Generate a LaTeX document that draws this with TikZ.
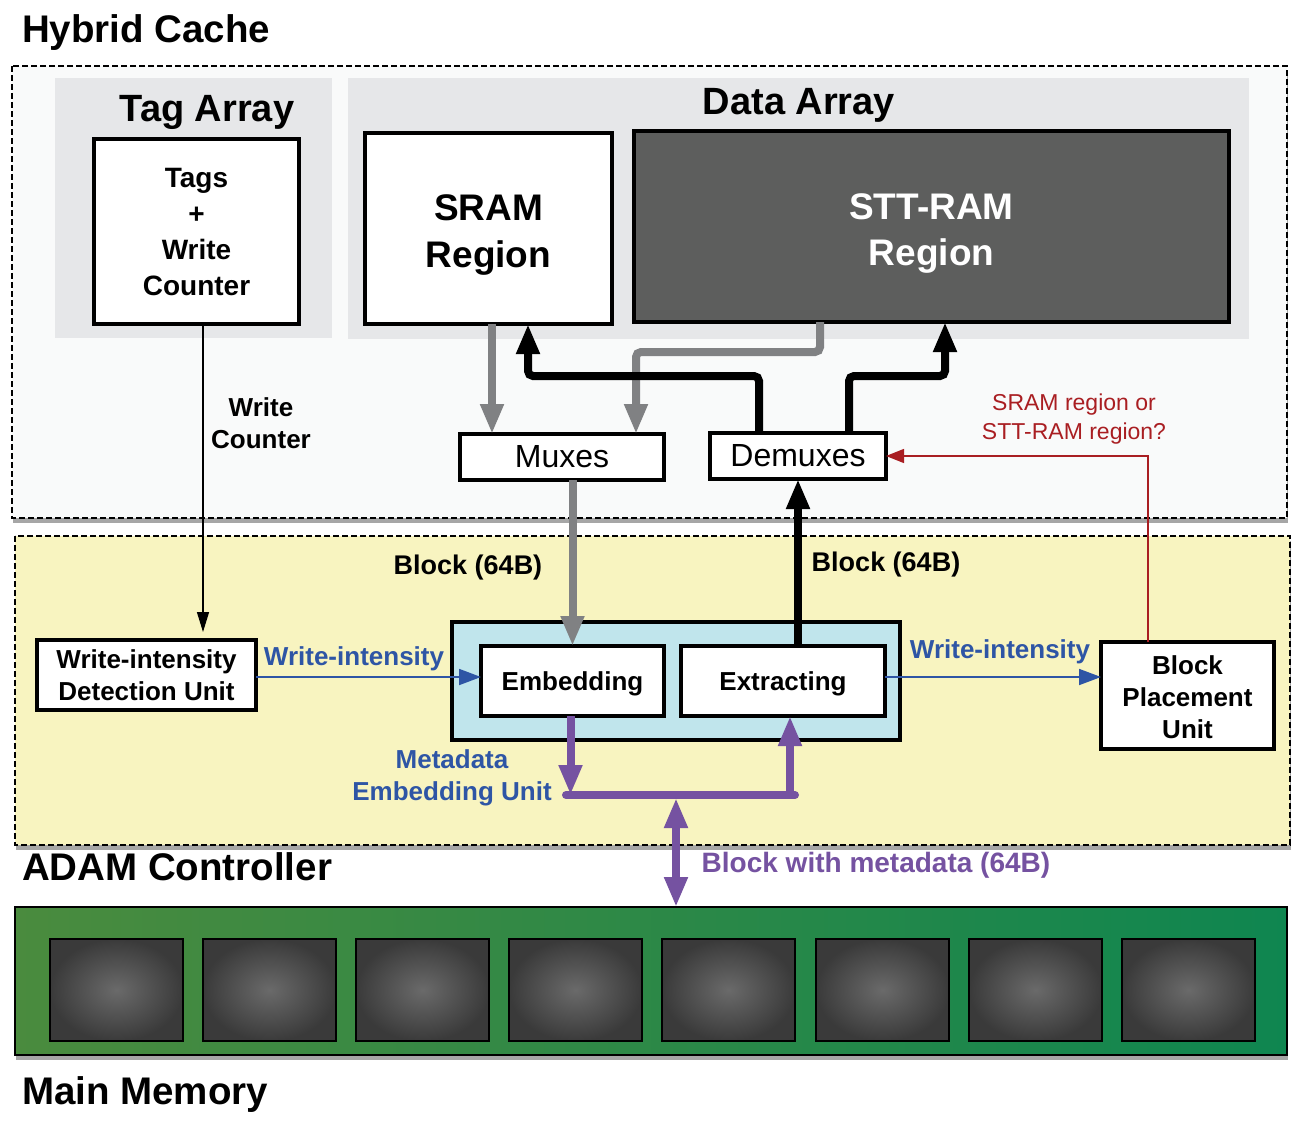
\documentclass[tikz,border=0pt]{standalone}
\usepackage{fontspec}
\setmainfont{Liberation Sans}
\usetikzlibrary{arrows.meta,shadows,calc}
\definecolor{cachebg}{HTML}{F9FAFA}
\definecolor{panelgray}{HTML}{E6E7E9}
\definecolor{sttgray}{HTML}{5D5E5D}
\definecolor{wiregray}{HTML}{808183}
\definecolor{adamyellow}{HTML}{F8F4C0}
\definecolor{meublue}{HTML}{C0E5EC}
\definecolor{txtblue}{HTML}{2E55A5}
\definecolor{mpurple}{HTML}{7552A1}
\definecolor{qred}{HTML}{A91E22}
\definecolor{greenL}{HTML}{4A8B3E}
\definecolor{greenR}{HTML}{0F8650}
\definecolor{chipin}{HTML}{6A6A6A}
\definecolor{chipout}{HTML}{3A3A3A}
\tikzset{
  box/.style={draw=black, line width=4pt, fill=white, inner sep=0pt, outer sep=0pt, align=center},
  lbl/.style={inner sep=0pt, outer sep=0pt, align=center},
  ttl/.style={lbl, font=\bfseries\fontsize{38.5}{46}\selectfont},
  dashbox/.style={draw=black, line width=1.8pt, dash pattern=on 6pt off 3pt,
     drop shadow={shadow xshift=1pt, shadow yshift=-5pt, fill=black, opacity=0.35}},
  bigtip/.style={-{Triangle[length=30pt,width=22pt]}},
  thickwire/.style={line width=8pt, rounded corners=5pt},
  chip/.style={draw=black, line width=2.5pt, inner color=chipin, outer color=chipout}
}
\begin{document}
\begin{tikzpicture}[x=1pt,y=-1pt]
\useasboundingbox[fill=white] (0,0) rectangle (1303,1120);

% ---------- Hybrid cache ----------
\node[ttl, anchor=base west] (hctitle) at (22,42) {Hybrid Cache};
\filldraw[dashbox, fill=cachebg] (12,66) rectangle (1287,518);
\fill[panelgray] (55,78) rectangle (332,338);
\fill[panelgray] (348,78) rectangle (1249,339);
\node[ttl, font=\bfseries\fontsize{38}{46}\selectfont, anchor=base] (tagtitle) at (207,121) {Tag Array};
\node[ttl, font=\bfseries\fontsize{38}{46}\selectfont, anchor=base] (datatitle) at (799,114) {Data Array};

\node[box, minimum width=205pt, minimum height=185pt,
      font=\bfseries\fontsize{28}{36}\selectfont] (tags) at (196.5,231.5)
      {Tags\\+\\Write\\Counter};
\node[box, minimum width=247pt, minimum height=191pt] (sram) at (488.5,228.5) {};
\node[lbl, font=\bfseries\fontsize{37}{47}\selectfont] (sramtxt) at (488.5,234.5)
      {SRAM\\Region};
\node[box, fill=sttgray, minimum width=595pt, minimum height=191pt] (stt) at (931.5,226.5) {};
\node[lbl, text=white, font=\bfseries\fontsize{37}{46}\selectfont] (stttxt) at (931.5,233)
      {STT-RAM\\Region};

\node[box, minimum width=204pt, minimum height=46pt,
      font=\fontsize{32}{38}\selectfont] (mux) at (562,457) {Muxes};
\node[box, minimum width=176pt, minimum height=46pt,
      font=\fontsize{32}{38}\selectfont] (demux) at (798,456) {Demuxes};

% wires between data array and (de)muxes
\coordinate (gA) at (492,0);
\coordinate (gB) at (820,352);
\coordinate (gC) at (636,352);
\draw[wiregray, thickwire, bigtip] (sram.south -| gA) -- (mux.north -| gA);
\draw[wiregray, thickwire, bigtip] (stt.south -| gB) -- (gB) -- (gC) -- (mux.north -| gC);
\coordinate (kA) at (759,376);
\coordinate (kB) at (528,376);
\coordinate (kC) at (849,376);
\coordinate (kD) at (945,376);
\draw[black, thickwire, bigtip] (demux.north -| kA) -- (kA) -- (kB) -- (sram.south -| kB);
\draw[black, thickwire, bigtip] (demux.north -| kC) -- (kC) -- (kD) -- (stt.south -| kD);

\node[lbl, font=\bfseries\fontsize{26}{32}\selectfont] (wclabel) at (261,423) {Write\\Counter};
\node[lbl, text=qred, font=\fontsize{23}{29}\selectfont] (qlabel) at (1074,419)
      {SRAM region or\\STT-RAM region?};

% ---------- ADAM controller ----------
\filldraw[dashbox, fill=adamyellow] (15,536) rectangle (1290,845);
\node[ttl, anchor=base west] (adamtitle) at (22,880) {ADAM Controller};

\node[box, fill=meublue, minimum width=448pt, minimum height=118pt] (meu) at (676,681) {};
\node[box, minimum width=183pt, minimum height=70pt] (emb) at (572.5,681) {};
\node[lbl, font=\bfseries\fontsize{26}{32}\selectfont] (embtxt) at (572.5,684) {Embedding};
\node[box, minimum width=204pt, minimum height=70pt] (ext) at (783,681) {};
\node[lbl, font=\bfseries\fontsize{26}{32}\selectfont] (exttxt) at (783,684) {Extracting};
\node[box, minimum width=219pt, minimum height=70pt,
      font=\bfseries\fontsize{26}{32}\selectfont] (widu) at (146.5,675)
      {Write-intensity\\Detection Unit};
\node[box, minimum width=173pt, minimum height=107pt] (bpu) at (1187.5,695.5) {};
\node[lbl, font=\bfseries\fontsize{26}{32}\selectfont] (bputxt) at (1187.5,697.5)
      {Block\\Placement\\Unit};

\node[lbl, font=\bfseries\fontsize{27}{32}\selectfont] (blk1) at (468,568) {Block (64B)};
\node[lbl, font=\bfseries\fontsize{27}{32}\selectfont] (blk2) at (886,565) {Block (64B)};
\node[lbl, text=txtblue, font=\bfseries\fontsize{26}{32}\selectfont] (wi1) at (354,659) {Write-intensity};
\node[lbl, text=txtblue, font=\bfseries\fontsize{26}{32}\selectfont] (wi2) at (1000,652) {Write-intensity};
\node[lbl, text=txtblue, font=\bfseries\fontsize{26}{32}\selectfont] (meulabel) at (452,778)
      {Metadata\\Embedding Unit};
\node[lbl, text=mpurple, font=\bfseries\fontsize{28}{32}\selectfont] (bwm) at (876,865)
      {Block with metadata (64B)};

% write counter arrow
\coordinate (wcx) at (203,0);
\draw[black, line width=1.3pt, -{Triangle[length=20pt,width=12pt]}, shorten >=8pt]
  (tags.south -| wcx) -- (widu.north -| wcx);

% red question line
\coordinate (rx) at (1148,0);
\draw[qred, line width=1.3pt, -{Triangle[length=18pt,width=14pt]}]
  (bpu.north -| rx) |- (demux.east);

% gray muxes -> embedding
\draw[wiregray, line width=8pt, bigtip] (mux.south -| emb.north) -- (emb.north);
% black extracting -> demuxes
\draw[black, line width=8pt, bigtip] (ext.north -| demux.south) -- (demux.south);

% blue write-intensity arrows
\draw[txtblue, line width=1.8pt, -{Triangle[length=22pt,width=16pt]}]
  ([yshift=-2pt]widu.east) -- ([yshift=-2pt]widu.east -| emb.west);
\draw[txtblue, line width=1.8pt, -{Triangle[length=22pt,width=16pt]}]
  ([yshift=4pt]ext.east) -- ([yshift=4pt]ext.east -| bpu.west);

% purple metadata wires
\coordinate (pL) at (566,795);
\coordinate (pR) at (795,795);
\coordinate (pj) at (676,795);
\coordinate (pE) at (790,795);
\draw[mpurple, line width=8pt, line cap=round] (pL) -- (pR);
\draw[mpurple, line width=8pt, -{Triangle[length=30pt,width=22pt]}]
  ([xshift=-2pt]emb.south) -- ([xshift=-2pt]emb.south |- pj);
\draw[mpurple, line width=8pt, -{Triangle[length=30pt,width=22pt]}]
  (pE) -- (pE |- ext.south);

% ---------- Main memory ----------
\shade[left color=greenL, right color=greenR,
       drop shadow={shadow xshift=1pt, shadow yshift=-5pt, fill=black, opacity=0.35}]
  (15,907) rectangle (1287,1055);
\draw[black, line width=2.5pt] (15,907) rectangle (1287,1055);
\coordinate (memtop) at (676,907);
\foreach \i/\x in {1/50,2/203,3/356,4/509,5/662,6/816,7/969,8/1122}{
  \shade[chip] (\x,939) rectangle ++(133,102);
}
\node[ttl, anchor=base west] (memtitle) at (22,1104) {Main Memory};

\draw[mpurple, line width=8pt, {Triangle[length=30pt,width=22pt]}-{Triangle[length=30pt,width=22pt]}]
  ([yshift=-3pt]pj) -- (memtop);
\end{tikzpicture}
\end{document}
